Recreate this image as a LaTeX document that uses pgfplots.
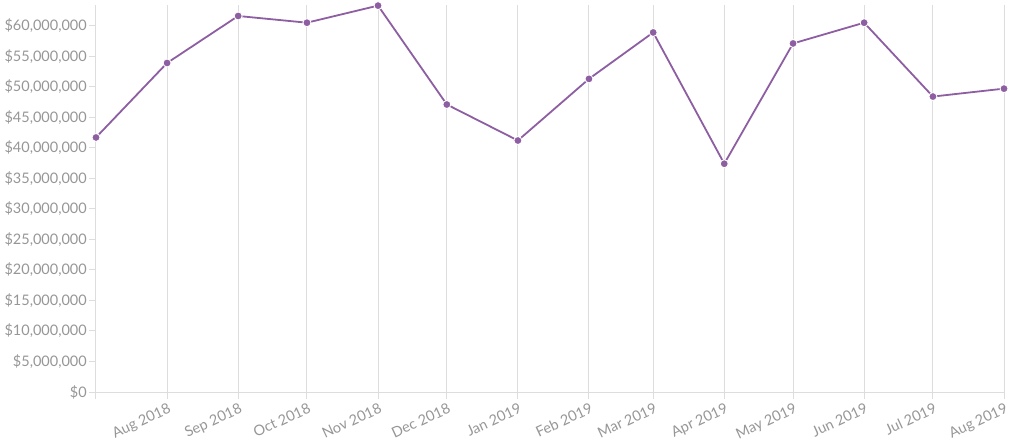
\documentclass[border=0pt]{standalone}
\usepackage{pgfplots}
\pgfplotsset{compat=1.18}
\usepackage{fontspec}
\setmainfont{Lato}
\definecolor{lineP}{RGB}{142,94,162}
\definecolor{gridG}{RGB}{221,221,221}
\definecolor{txtG}{RGB}{150,150,150}
\begin{document}
\begin{tikzpicture}
\begin{axis}[
  scale only axis,
  width=908pt, height=387pt,
  xmin=0, xmax=396,
  ymin=0, ymax=63.4e6,
  axis x line*=bottom, axis y line*=left,
  axis line style={draw=gridG, line width=1pt, -},
  xtick={0,31,62,92,123,153,184,215,243,274,304,335,365,396},
  xticklabels={,Aug 2018,Sep 2018,Oct 2018,Nov 2018,Dec 2018,Jan 2019,Feb 2019,Mar 2019,Apr 2019,May 2019,Jun 2019,Jul 2019,Aug 2019},
  xmajorgrids,
  grid style={draw=gridG, line width=1pt},
  tick style={draw=gridG, line width=1pt},
  tick align=outside,
  major tick length=7pt,
  ytick={0,5e6,10e6,15e6,20e6,25e6,30e6,35e6,40e6,45e6,50e6,55e6,60e6},
  scaled y ticks=false,
  yticklabel={\$\pgfmathprintnumber[fixed,precision=0,1000 sep={,}]{\tick}},
  /pgf/number format/assume math mode=true,
  tick label style={font=\fontsize{14.5}{16}\selectfont, text=txtG},
  x tick label style={rotate=25, anchor=north east, inner sep=1pt, yshift=-2pt},
  y tick label style={inner sep=2pt},
  clip=false,
]
\addplot[color=lineP, line width=1.8pt, mark=*, mark size=4pt,
  mark options={fill=lineP, draw=white, line width=0.9pt}]
  coordinates {
  (0,41.7e6) (31,53.9e6) (62,61.6e6) (92,60.5e6) (123,63.3e6) (153,47.1e6)
  (184,41.2e6) (215,51.3e6) (243,58.9e6) (274,37.4e6) (304,57.1e6)
  (335,60.5e6) (365,48.4e6) (396,49.7e6)
  };
\coordinate (bl) at (rel axis cs:0,0);
\coordinate (tr) at (rel axis cs:1,1);
\end{axis}
\pgfresetboundingbox
\path ([xshift=-96pt,yshift=-50pt]bl) rectangle ([xshift=6pt,yshift=5pt]tr);
\end{tikzpicture}
\end{document}
